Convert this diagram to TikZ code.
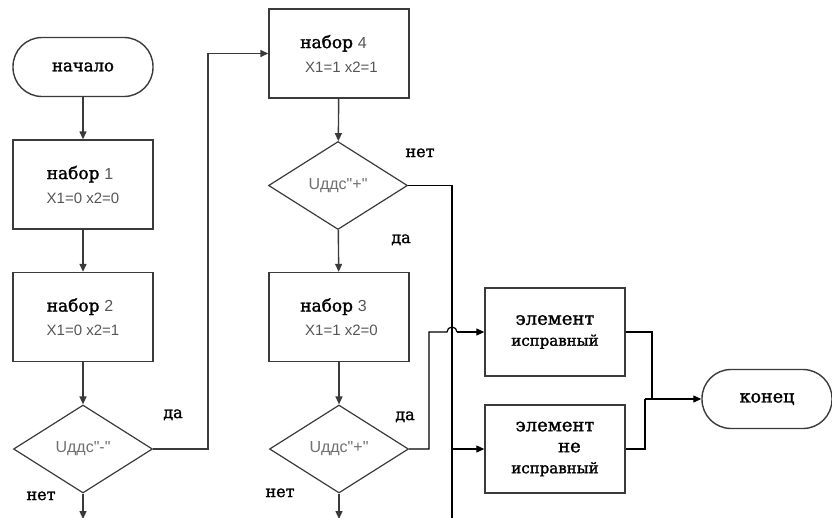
\documentclass[tikz,border=0pt]{standalone}
\usepackage{fontspec}
\setmainfont{DejaVu Serif}
\newfontfamily\serf[FakeBold=1.6]{DejaVu Serif}
\newfontfamily\sansf{Liberation Sans}
\usetikzlibrary{shapes.geometric,arrows.meta}
\definecolor{txtgrey}{HTML}{555555}
\definecolor{decgrey}{HTML}{707070}
\definecolor{linegrey}{HTML}{3A3A3A}
\newcommand{\nab}[1]{{\serf\fontsize{17}{24}\selectfont набор} {\sansf\color{txtgrey}\fontsize{16}{24}\selectfont #1}}
\newcommand{\xx}[1]{{\sansf\color{txtgrey}\fontsize{15}{24}\selectfont #1}}
\begin{document}
\begin{tikzpicture}[x=1pt,y=-1pt,
  box/.style={draw=linegrey,line width=1.4pt,minimum width=140pt,minimum height=89pt,inner sep=0pt,align=left,
     font=\fontsize{15}{24}\selectfont},
  elbox/.style={draw=linegrey,line width=1.4pt,minimum width=140pt,minimum height=88pt,inner sep=0pt,align=center,
     font=\serf\fontsize{18}{21}\selectfont},
  term/.style={draw=linegrey,line width=1.4pt,rounded corners=29pt,minimum height=59pt,inner sep=0pt,
     font=\serf\fontsize{16.5}{20}\selectfont},
  dec/.style={draw=linegrey,line width=1.2pt,diamond,minimum width=139pt,minimum height=88pt,inner sep=0pt,
     font=\sansf\fontsize{16}{18}\selectfont,text=decgrey},
  arr/.style={-{Triangle[length=8pt,width=7pt]},line width=1.4pt,draw=linegrey},
  thin/.style={line width=1.2pt,draw=black},
  lab/.style={font=\serf\fontsize{16}{20}\selectfont,anchor=base,inner sep=0pt},
]
\useasboundingbox (0,0) rectangle (832,517);
\clip (0,0) rectangle (832,517);

% left column
\node[term,minimum width=140pt] (start) at (83,67) {начало};
\node[box] (n1) at (83,184.5) {\nab{1}\\\xx{X1=0 x2=0}};
\node[box] (n2) at (83,317) {\nab{2}\\\xx{X1=0 x2=1}};
\node[dec] (d1) at (83,449) {Uддс"-"};
\coordinate (d1out) at (83,519);

% middle column
\node[box] (n4) at (339,53.5) {\nab{4}\\\hspace*{5pt}\xx{X1=1 x2=1}};
\node[dec] (d2) at (338,185.5) {Uддс"+"};
\node[box] (n3) at (339,317) {\nab{3}\\\hspace*{5pt}\xx{X1=1 x2=0}};
\node[dec] (d3) at (339,449) {Uддс"+"};
\coordinate (d3out) at (339,519);

% right column
\node[elbox] (ok) at (555,332) {элемент\\{\fontsize{15}{21}\selectfont исправный}};
\node[elbox] (bad) at (555,449) {элемент\\\hspace*{1.6em}не\\{\fontsize{15}{21}\selectfont исправный}};
\node[term,minimum width=130pt,font=\serf\fontsize{17.5}{20}\selectfont] (end) at (767,399) {конец};

% helper coordinates
\coordinate (c1) at (208,449);
\coordinate (c2) at (208,53.5);
\coordinate (v1) at (452,185.5);
\coordinate (v2) at (452,524);
\coordinate (vb) at (452,449);
\coordinate (r1) at (429,449);
\coordinate (r2) at (429,332);
\coordinate (h1) at (447,332);
\coordinate (h2) at (457,332);
\coordinate (j1) at (652,332);
\coordinate (j2) at (652,399);
\coordinate (j3) at (645,449);
\coordinate (j4) at (645,399);

% connectors
\draw[arr] (start) -- (n1);
\draw[arr] (n1) -- (n2);
\draw[arr] (n2) -- (d1);
\draw[arr] (d1) -- (d1out);
\draw[arr] (d1.east) -- (c1) -- (c2) -- (n4.west);
\draw[arr] (n4) -- (d2);
\draw[arr] (d2) -- (n3);
\draw[arr] (n3) -- (d3);
\draw[arr] (d3) -- (d3out);
\draw[thin] (d2.east) -- (v1) -- (v2);
\draw[thin,-{Triangle[length=8pt,width=7pt]}] (vb) -- (bad.west);
\draw[thin] (d3.east) -- (r1) -- (r2) -- (h1) arc[start angle=180,end angle=0,radius=5pt];
\draw[thin,-{Triangle[length=8pt,width=7pt]}] (h2) -- (ok.west);
\draw[thin] (ok.east) -- (j1) -- (j2);
\draw[thin] (bad.east) -- (j3) -- (j4);
\draw[thin,-{Triangle[length=8pt,width=7pt]}] (j4) -- (end.west);

% labels
\node[lab] (l1) at (173,418) {да};
\node[lab] (l2) at (41,500) {нет};
\node[lab] (l3) at (420,157) {нет};
\node[lab] (l4) at (401,243) {да};
\node[lab] (l5) at (405,420) {да};
\node[lab] (l6) at (280,497) {нет};
\end{tikzpicture}
\end{document}
